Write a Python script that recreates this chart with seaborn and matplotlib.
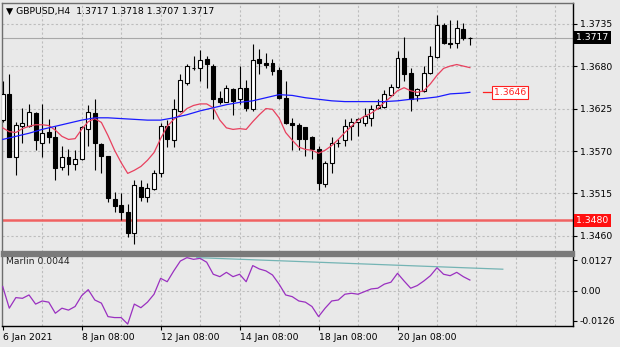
import numpy as np
import pandas as pd
import seaborn as sns
import matplotlib
matplotlib.use("Agg")
import matplotlib.pyplot as plt
import matplotlib.transforms as mtransforms

# ---------------- data ----------------
opens = [1.3610,1.3644,1.3562,1.3603,1.3603,1.3619,1.3581,1.3594,1.3588,1.3549,
         1.3562,1.3553,1.3560,1.3599,1.3619,1.3579,1.3563,1.3508,1.3500,1.3491,
         1.3464,1.3524,1.3511,1.3521,1.3541,1.3603,1.3584,1.3622,1.3658,1.3677,
         1.3677,1.3689,1.3680,1.3639,1.3634,1.3650,1.3638,1.3652,1.3625,1.3689,
         1.3684,1.3684,1.3675,1.3639,1.3606,1.3604,1.3601,1.3588,1.3572,1.3527,
         1.3554,1.3580,1.3584,1.3603,1.3608,1.3606,1.3613,1.3626,1.3627,1.3642,
         1.3653,1.3691,1.3671,1.3643,1.3648,1.3671,1.3692,1.3733,1.3710,1.3710,
         1.3728,1.3717]
highs = [1.3661,1.3670,1.3607,1.3626,1.3631,1.3620,1.3631,1.3612,1.3603,1.3576,
         1.3572,1.3571,1.3603,1.3629,1.3637,1.3580,1.3564,1.3517,1.3515,1.3502,
         1.3532,1.3532,1.3529,1.3545,1.3606,1.3610,1.3637,1.3670,1.3683,1.3693,
         1.3701,1.3693,1.3683,1.3648,1.3655,1.3652,1.3680,1.3662,1.3709,1.3702,
         1.3697,1.3689,1.3679,1.3661,1.3613,1.3606,1.3601,1.3589,1.3577,1.3557,
         1.3588,1.3586,1.3611,1.3613,1.3613,1.3626,1.3629,1.3637,1.3649,1.3657,
         1.3700,1.3718,1.3678,1.3652,1.3680,1.3706,1.3746,1.3736,1.3740,1.3740,
         1.3736,1.3718]
lows = [1.3607,1.3562,1.3539,1.3581,1.3601,1.3571,1.3562,1.3581,1.3532,1.3545,
        1.3539,1.3545,1.3558,1.3577,1.3545,1.3541,1.3504,1.3491,1.3481,1.3459,
        1.3450,1.3505,1.3504,1.3519,1.3536,1.3575,1.3575,1.3620,1.3655,1.3675,
        1.3661,1.3652,1.3612,1.3631,1.3633,1.3616,1.3631,1.3622,1.3622,1.3670,
        1.3678,1.3668,1.3638,1.3605,1.3571,1.3571,1.3564,1.3560,1.3519,1.3523,
        1.3542,1.3575,1.3577,1.3584,1.3590,1.3603,1.3603,1.3625,1.3626,1.3641,
        1.3652,1.3661,1.3622,1.3635,1.3646,1.3670,1.3691,1.3709,1.3704,1.3704,
        1.3714,1.3707]
closes = [1.3644,1.3562,1.3604,1.3606,1.3620,1.3584,1.3593,1.3588,1.3548,1.3562,
          1.3553,1.3560,1.3601,1.3620,1.3580,1.3564,1.3509,1.3499,1.3491,1.3464,
          1.3526,1.3510,1.3522,1.3542,1.3603,1.3586,1.3625,1.3662,1.3680,1.3678,
          1.3688,1.3683,1.3638,1.3633,1.3651,1.3635,1.3651,1.3626,1.3688,1.3684,
          1.3682,1.3673,1.3639,1.3606,1.3604,1.3586,1.3586,1.3572,1.3528,1.3554,
          1.3580,1.3581,1.3603,1.3608,1.3611,1.3615,1.3625,1.3629,1.3644,1.3653,
          1.3691,1.3670,1.3637,1.3650,1.3671,1.3693,1.3733,1.3710,1.3709,1.3729,
          1.3716,1.3717]
ma_fast = [1.3600,1.3595,1.3594,1.3599,1.3602,1.3604,1.3604,1.3603,1.3597,1.3589,
           1.3585,1.3586,1.3598,1.3608,1.3612,1.3607,1.3590,1.3571,1.3555,1.3541,
           1.3545,1.3550,1.3558,1.3568,1.3586,1.3602,1.3611,1.3617,1.3625,1.3629,
           1.3631,1.3631,1.3626,1.3610,1.3600,1.3598,1.3599,1.3598,1.3608,1.3617,
           1.3625,1.3624,1.3613,1.3594,1.3584,1.3575,1.3572,1.3571,1.3567,1.3571,
           1.3577,1.3585,1.3594,1.3602,1.3610,1.3615,1.3619,1.3625,1.3633,1.3640,
           1.3648,1.3652,1.3648,1.3646,1.3648,1.3657,1.3668,1.3677,1.3680,1.3682,
           1.3680,1.3678]
ma_slow_bar = list(range(0, 71, 2)) + [71]
ma_slow = [1.3585,1.3589,1.3593,1.3598,1.3602,1.3606,1.3610,1.3613,1.3613,1.3612,
           1.3611,1.3610,1.3610,1.3613,1.3617,1.3622,1.3626,1.3630,1.3633,1.3635,
           1.3639,1.3643,1.3642,1.3639,1.3637,1.3635,1.3634,1.3634,1.3634,1.3634,
           1.3635,1.3637,1.3638,1.3640,1.3644,1.3645,1.3646]
marlin = [0.0017,-0.0073,-0.0029,-0.0032,-0.0018,-0.0056,-0.0043,-0.0048,-0.0094,-0.0073,
          -0.0081,-0.0066,-0.0021,0.0004,-0.0039,-0.0052,-0.0108,-0.0112,-0.0112,-0.0139,
          -0.0056,-0.0071,-0.0048,-0.0015,0.0051,0.0037,0.0082,0.0123,0.0137,0.0130,
          0.0134,0.0118,0.0068,0.0058,0.0076,0.0058,0.0068,0.0037,0.0104,0.0090,
          0.0082,0.0065,0.0027,-0.0018,-0.0025,-0.0043,-0.0048,-0.0066,-0.0108,-0.0073,
          -0.0043,-0.0039,-0.0015,-0.0011,-0.0015,-0.0004,0.0007,0.0010,0.0027,0.0035,
          0.0072,0.0040,0.0010,0.0021,0.0040,0.0062,0.0095,0.0068,0.0062,0.0076,
          0.0058,0.0044]
trend_bar = [29.5, 76.0]
trend_val = [0.0137, 0.0089]
price_ticks = [1.3735, 1.3680, 1.3625, 1.3570, 1.3515, 1.3460]
marlin_ticks = [0.0127, 0.0, -0.0126]
marlin_tick_labels = ["0.0127", "0.00", "-0.0126"]
date_tick_bar = [0, 12, 24, 36, 48, 60]
date_labels = ["6 Jan 2021", "8 Jan 08:00", "12 Jan 08:00", "14 Jan 08:00",
               "18 Jan 08:00", "20 Jan 08:00"]
level_price = 1.3480
bid_price = 1.3717
ma_label_price = 1.3646
title_text = "\u25BC GBPUSD,H4  1.3717 1.3718 1.3707 1.3717"
ind_title = "Marlin 0.0044"

# ---------------- style ----------------
BG = "#e9e9e9"
GRID = "#bdbdbd"
FS = 6.7
plt.rcParams["font.family"] = ["DejaVu Sans"]

fig = plt.figure(figsize=(6.2, 3.47), dpi=100, facecolor=BG)
ax = fig.add_axes([2/620, 1-252/347, 571/620, 249/347])
ax2 = fig.add_axes([2/620, 1-326/347, 571/620, 71/347], sharex=ax)
for a in (ax, ax2):
    a.set_facecolor(BG)

n = len(closes)
bars = np.arange(n)
df = pd.DataFrame({"bar": bars, "open": opens, "high": highs, "low": lows,
                   "close": closes, "ma_fast": ma_fast, "marlin": marlin})
slow_df = pd.DataFrame({"bar": ma_slow_bar, "ma_slow": ma_slow})
trend_df = pd.DataFrame({"bar": trend_bar, "val": trend_val})

xmin, xmax = -0.106, 86.67
ax.set_xlim(xmin, xmax)
ax.set_ylim(1.34392, 1.37617)
ax2.set_ylim(-0.0147, 0.0148)

# grid
day_lines = np.arange(6, 87, 6)
for a in (ax, ax2):
    for g in day_lines:
        a.axvline(g, color=GRID, lw=0.8, ls=(0, (2, 2)), zorder=0)
for p in price_ticks:
    ax.axhline(p, color=GRID, lw=0.8, ls=(0, (2, 2)), zorder=0)
ax2.axhline(0.0, color=GRID, lw=0.8, ls=(0, (2, 2)), zorder=0)

# level line and bid line
ax.axhline(level_price, color="#f06262", lw=1.8, zorder=2)
ax.axhline(bid_price, color="#a8a8a8", lw=0.8, zorder=1)

# candles
up = df["close"] >= df["open"]
ax.vlines(df["bar"], df["low"], df["high"], color="black", lw=0.8, zorder=3)
body_bottom = np.minimum(df["open"], df["close"])
body_h = np.abs(df["close"] - df["open"])
ax.bar(df["bar"][up], body_h[up], bottom=body_bottom[up], width=0.6,
       color="white", edgecolor="black", linewidth=0.8, zorder=4)
ax.bar(df["bar"][~up], body_h[~up], bottom=body_bottom[~up], width=0.6,
       color="black", edgecolor="black", linewidth=0.8, zorder=4)

# moving averages
sns.lineplot(data=df, x="bar", y="ma_fast", ax=ax, color="#e8405e", lw=0.9,
             zorder=5, legend=False)
sns.lineplot(data=slow_df, x="bar", y="ma_slow", ax=ax, color="#1a1aff", lw=0.9,
             zorder=5, legend=False)

# indicator
sns.lineplot(data=trend_df, x="bar", y="val", ax=ax2, color="#74b4b4", lw=0.9,
             zorder=3, legend=False)
sns.lineplot(data=df, x="bar", y="marlin", ax=ax2, color="#9a30c0", lw=0.9,
             zorder=4, legend=False)

# axes cosmetics
for a in (ax, ax2):
    a.set_xlabel("")
    a.set_ylabel("")
    a.yaxis.tick_right()
    a.tick_params(axis="y", direction="out", length=3, width=0.8, pad=2,
                  labelsize=FS, colors="black")
    for s in a.spines.values():
        s.set_color("#6e6e6e")
        s.set_linewidth(1.0)
    a.spines["right"].set_color("black")

ax.set_yticks(price_ticks)
ax.set_yticklabels([f"{p:.4f}" for p in price_ticks])
ax.spines["bottom"].set_linewidth(2.4)
ax.spines["bottom"].set_color("#7a7a7a")
ax2.spines["top"].set_linewidth(2.4)
ax2.spines["top"].set_color("#7a7a7a")
ax2.spines["bottom"].set_color("black")
ax.tick_params(axis="x", bottom=False, labelbottom=False)

ax2.set_yticks(marlin_ticks)
ax2.set_yticklabels(marlin_tick_labels)
ax2.set_xticks(date_tick_bar)
ax2.set_xticklabels(date_labels, ha="left")
ax2.tick_params(axis="x", direction="out", length=3, width=0.8, pad=2,
                labelsize=FS, colors="black")
ax2.set_xlim(xmin, xmax)

# right-side price boxes
tr = mtransforms.blended_transform_factory(ax.transAxes, ax.transData)
ax.text(1.006, bid_price, f"{bid_price:.4f}", transform=tr, ha="left", va="center",
        fontsize=FS, color="white", zorder=10, clip_on=False,
        bbox=dict(boxstyle="square,pad=0.22", fc="black", ec="none"))
ax.text(1.006, level_price, f"{level_price:.4f}", transform=tr, ha="left", va="center",
        fontsize=FS, color="white", zorder=10, clip_on=False,
        bbox=dict(boxstyle="square,pad=0.22", fc="#ff1010", ec="none"))

# MA price label with leader line
lab_x0 = n + 1.0
ax.plot([lab_x0, lab_x0 + 1.4], [ma_label_price, ma_label_price], color="#ff2020",
        lw=0.9, zorder=6)
ax.text(lab_x0 + 1.6, ma_label_price, f"{ma_label_price:.4f}", ha="left", va="center",
        fontsize=FS, color="#ff2020", zorder=7,
        bbox=dict(boxstyle="square,pad=0.2", fc="white", ec="#ff2020", lw=0.8))

# titles
ax.text(4/571, 1 - 8/249, title_text, transform=ax.transAxes, ha="left", va="center",
        fontsize=FS, color="black", zorder=10)
ax2.text(4/571, 1 - 7/71, ind_title, transform=ax2.transAxes, ha="left", va="center",
         fontsize=FS, color="#222222", zorder=10)

fig.savefig("out.png", dpi=100, facecolor=BG)
